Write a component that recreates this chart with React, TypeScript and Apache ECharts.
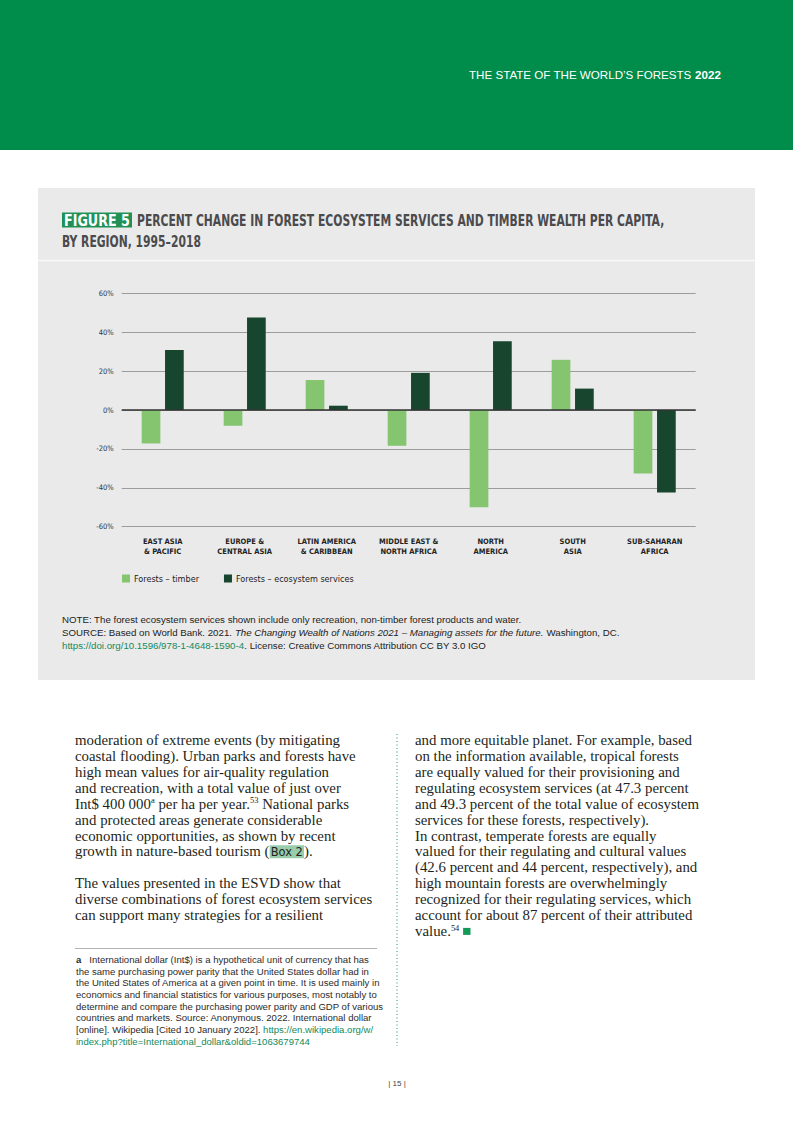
import React, { useEffect, useRef } from "react";
import * as echarts from "echarts";

// ---------- chart data ----------
const categories = [
  "EAST ASIA\n& PACIFIC",
  "EUROPE &\nCENTRAL ASIA",
  "LATIN AMERICA\n& CARIBBEAN",
  "MIDDLE EAST &\nNORTH AFRICA",
  "NORTH\nAMERICA",
  "SOUTH\nASIA",
  "SUB-SAHARAN\nAFRICA",
];
const timberValues = [-17.2, -8.1, 15.4, -18.4, -50.0, 25.8, -32.6];
const ecosystemValues = [30.8, 47.5, 2.2, 19.1, 35.4, 11.0, -42.4];
const seriesNames = ["Forests \u2013 timber", "Forests \u2013 ecosystem services"];
const yMin = -60;
const yMax = 60;
const yStep = 20;

// ---------- page texts ----------
const headerRegular = "THE STATE OF THE WORLD\u2019S FORESTS ";
const headerBold = "2022";
const figureLabel = "FIGURE 5";
const titleLine1 = "PERCENT CHANGE IN FOREST ECOSYSTEM SERVICES AND TIMBER WEALTH PER CAPITA,";
const titleLine2 = "BY REGION, 1995\u20132018";
const noteLines = [
  "NOTE: The forest ecosystem services shown include only recreation, non-timber forest products and water.",
  "SOURCE: Based on World Bank. 2021. {it|The Changing Wealth of Nations 2021 \u2013 Managing assets for the future.} Washington, DC.",
  "{link|https://doi.org/10.1596/978-1-4648-1590-4}. License: Creative Commons Attribution CC BY 3.0 IGO",
];
const leftColumn = [
  "moderation of extreme events (by mitigating",
  "coastal flooding). Urban parks and forests have",
  "high mean values for air-quality regulation",
  "and recreation, with a total value of just over",
  "Int$ 400 000{sup|a} per ha per year.{sup|53} National parks",
  "and protected areas generate considerable",
  "economic opportunities, as shown by recent",
  "growth in nature-based tourism ({box|Box 2}).",
  "",
  "The values presented in the ESVD show that",
  "diverse combinations of forest ecosystem services",
  "can support many strategies for a resilient",
];
const rightColumn = [
  "and more equitable planet. For example, based",
  "on the information available, tropical forests",
  "are equally valued for their provisioning and",
  "regulating ecosystem services (at 47.3 percent",
  "and 49.3 percent of the total value of ecosystem",
  "services for these forests, respectively).",
  "In contrast, temperate forests are equally",
  "valued for their regulating and cultural values",
  "(42.6 percent and 44 percent, respectively), and",
  "high mountain forests are overwhelmingly",
  "recognized for their regulating services, which",
  "account for about 87 percent of their attributed",
  "value.{sup|54} {sq| }",
];
const footnoteLines = [
  "{b|a}   International dollar (Int$) is a hypothetical unit of currency that has",
  "the same purchasing power parity that the United States dollar had in",
  "the United States of America at a given point in time. It is used mainly in",
  "economics and financial statistics for various purposes, most notably to",
  "determine and compare the purchasing power parity and GDP of various",
  "countries and markets. Source: Anonymous. 2022. International dollar",
  "[online]. Wikipedia [Cited 10 January 2022]. {link|https://en.wikipedia.org/w/}",
  "{link|index.php?title=International_dollar&oldid=1063679744}",
];
const pageNumber = "| 15 |";

// ---------- styling ----------
const NARROW = '"Liberation Sans Narrow", "Arial Narrow", "DejaVu Sans Condensed", "Roboto Condensed", sans-serif';
const SANS = '"Liberation Sans", Arial, sans-serif';
const SERIF = '"Liberation Serif", "Times New Roman", serif';
const GREEN = "#008D4C";
const TIMBER = "#85C56F";
const ECO = "#17452E";

let measureCtx: CanvasRenderingContext2D | null = null;
function measure(text: string, font: string): number {
  if (!measureCtx) measureCtx = document.createElement("canvas").getContext("2d");
  if (!measureCtx) return text.length * 6;
  measureCtx.font = font;
  return measureCtx.measureText(text).width;
}

function buildGraphics(): any[] {
  const els: any[] = [];
  // header band
  els.push({ type: "rect", z: -100, shape: { x: 0, y: 0, width: 793, height: 150 }, style: { fill: GREEN } });
  const hFontR = `11px ${SANS}`;
  const hFontB = `bold 11px ${SANS}`;
  const hw = measure(headerRegular, hFontR) + measure(headerBold, hFontB);
  const hScale = 252 / hw;
  els.push({
    type: "text",
    x: 721 - 252,
    y: 75,
    scaleX: hScale,
    style: {
      text: `{r|${headerRegular}}{b|${headerBold}}`,
      fill: "#ffffff",
      fontSize: 11,
      fontFamily: SANS,
      textVerticalAlign: "middle",
      rich: {
        r: { fontSize: 11, fontFamily: SANS, fill: "#ffffff", textStrokeWidth: 0.3, textStroke: "#ffffff" },
        b: { fontSize: 11, fontFamily: SANS, fontWeight: "bold", fill: "#ffffff" },
      },
    },
  });

  // grey figure box
  els.push({ type: "rect", z: -100, shape: { x: 38, y: 188, width: 717, height: 492 }, style: { fill: "#EAEAEB" } });
  els.push({ type: "line", z: -99, shape: { x1: 38, y1: 260.5, x2: 755, y2: 260.5 }, style: { stroke: "#F8F8F8", lineWidth: 1.5 } });

  // title
  const LEFT = 62;
  const tFont = `bold 16px ${NARROW}`;
  const tScale = 528 / measure(titleLine1, tFont);
  const badgeRight = 132;
  const badgeLeft = LEFT;
  const figScale = (badgeRight - badgeLeft - 4) / measure(figureLabel, tFont);
  els.push({ type: "rect", shape: { x: badgeLeft, y: 212.5, width: badgeRight - badgeLeft, height: 15 }, style: { fill: "#1F9157" } });
  els.push({
    type: "text", x: badgeLeft + 2, y: 220.5, scaleX: figScale,
    style: { text: figureLabel, fill: "#ffffff", fontSize: 16, fontWeight: "bold", fontFamily: NARROW, textVerticalAlign: "middle" },
  });
  els.push({
    type: "text", x: 137, y: 220.5, scaleX: tScale,
    style: { text: titleLine1, fill: "#4B4B4D", fontSize: 16, fontWeight: "bold", fontFamily: NARROW, textVerticalAlign: "middle" },
  });
  els.push({
    type: "text", x: LEFT, y: 241.5, scaleX: tScale,
    style: { text: titleLine2, fill: "#4B4B4D", fontSize: 16, fontWeight: "bold", fontFamily: NARROW, textVerticalAlign: "middle" },
  });

  // notes
  const nFont = `9px ${SANS}`;
  const nScale = 460 / measure(noteLines[0], nFont);
  noteLines.forEach((line, i) => {
    els.push({
      type: "text", x: LEFT, y: 620 + i * 13, scaleX: nScale,
      style: {
        text: line, fill: "#222222", fontSize: 9, fontFamily: SANS, textVerticalAlign: "middle",
        rich: {
          it: { fontSize: 9, fontFamily: SANS, fontStyle: "italic", fill: "#222222" },
          link: { fontSize: 9, fontFamily: SANS, fill: "#13895A" },
        },
      },
    });
  });

  // body columns
  const bFont = `14px ${SERIF}`;
  const bScale = 281 / measure(leftColumn[1], bFont);
  const bodyRich = {
    sup: { fontSize: 8, fontFamily: SERIF, fill: "#231F20", verticalAlign: "top", lineHeight: 8 },
    box: { fontSize: 12, fontFamily: NARROW, fill: "#231F20", backgroundColor: "#98CCAA", padding: [1, 1, 0, 1] },
    sq: { width: 7, height: 7, backgroundColor: "#139A57", fontSize: 7 },
  };
  const drawColumn = (lines: string[], x: number) => {
    lines.forEach((line, i) => {
      if (!line) return;
      els.push({
        type: "text", x, y: 740 + i * 15.95, scaleX: bScale,
        style: { text: line, fill: "#231F20", fontSize: 14, fontFamily: SERIF, textVerticalAlign: "middle", rich: bodyRich },
      });
    });
  };
  drawColumn(leftColumn, 75);
  drawColumn(rightColumn, 415);

  // dotted divider
  els.push({ type: "line", shape: { x1: 397, y1: 734, x2: 397, y2: 1046 }, style: { stroke: "#1A9A5A", lineWidth: 1, lineDash: [1, 2.5] } });

  // footnote
  els.push({ type: "line", shape: { x1: 75, y1: 948.5, x2: 377, y2: 948.5 }, style: { stroke: "#A0A0A0", lineWidth: 0.8 } });
  const fFont = `8.8px ${SANS}`;
  const fScale = 293 / measure(footnoteLines[1], fFont);
  footnoteLines.forEach((line, i) => {
    els.push({
      type: "text", x: 76, y: 960 + i * 11.7, scaleX: fScale,
      style: {
        text: line, fill: "#2B2B2B", fontSize: 8.8, fontFamily: SANS, textVerticalAlign: "middle",
        rich: {
          b: { fontSize: 8.8, fontFamily: SANS, fontWeight: "bold", fill: "#2B2B2B" },
          link: { fontSize: 8.8, fontFamily: SANS, fill: "#13895A" },
        },
      },
    });
  });

  // page number
  els.push({
    type: "text", x: 397, y: 1083,
    style: { text: pageNumber, fill: "#444444", fontSize: 8, fontFamily: SANS, textAlign: "center", textVerticalAlign: "middle" },
  });
  return els;
}

export default function App() {
  const ref = useRef<HTMLDivElement>(null);
  useEffect(() => {
    if (!ref.current) return;
    const chart = echarts.init(ref.current, undefined, { renderer: "svg" });
    const option: any = {
      animation: false,
      backgroundColor: "#ffffff",
      grid: { left: 121.7, right: 97.3, top: 293.3, bottom: 595.3, containLabel: false },
      legend: {
        left: 122,
        top: 574,
        padding: 0,
        itemWidth: 8,
        itemHeight: 8,
        itemGap: 25,
        icon: "rect",
        data: seriesNames,
        textStyle: { fontFamily: NARROW, fontSize: 9, color: "#222222", padding: [0, 0, 0, -1] },
      },
      xAxis: {
        type: "category",
        data: categories,
        axisLine: { show: false, onZero: false },
        axisTick: { show: false },
        splitLine: { show: false },
        axisLabel: {
          interval: 0,
          margin: 10,
          fontFamily: NARROW,
          fontWeight: "bold",
          fontSize: 7.5,
          lineHeight: 10,
          color: "#222222",
        },
      },
      yAxis: {
        type: "value",
        min: yMin,
        max: yMax,
        interval: yStep,
        axisLine: { show: false },
        axisTick: { show: false },
        axisLabel: { formatter: "{value}%", margin: 8, fontFamily: NARROW, fontSize: 7.5, color: "#333333" },
        splitLine: { lineStyle: { color: "#9C9C9C", width: 1 } },
      },
      series: [
        {
          name: seriesNames[0],
          type: "bar",
          data: timberValues,
          barWidth: 18.7,
          barGap: "25%",
          itemStyle: { color: TIMBER },
        },
        {
          name: seriesNames[1],
          type: "bar",
          data: ecosystemValues,
          barWidth: 18.7,
          barGap: "25%",
          itemStyle: { color: ECO },
          markLine: {
            silent: true,
            symbol: ["none", "none"],
            label: { show: false },
            lineStyle: { color: "#333333", width: 1.5, type: "solid" },
            data: [{ yAxis: 0 }],
          },
        },
      ],
      graphic: { elements: buildGraphics() },
    };
    chart.setOption(option);
    return () => chart.dispose();
  }, []);
  return (
    <div
      ref={ref}
      style={{ position: "absolute", left: 0, top: 0, width: 793, height: 1122, background: "#ffffff" }}
    />
  );
}
